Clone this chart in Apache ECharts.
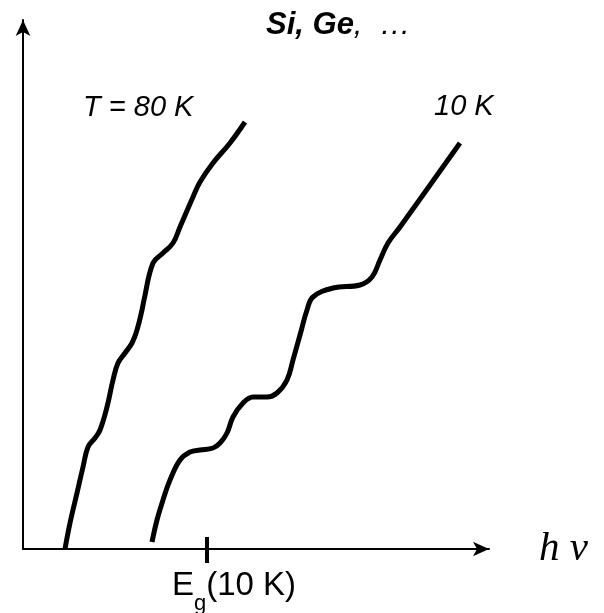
<!DOCTYPE html>
<html>
<head>
<meta charset="utf-8">
<script src="https://cdn.jsdelivr.net/npm/echarts@6/dist/echarts.min.js"></script>
<style>
    html, body { margin: 0; padding: 0; background: #fff; }
    #chart { width: 604px; height: 613px; }
</style>
</head>
<body>
<div id="chart"></div>
<script>
// photon energy (arbitrary units) and absorption for the two temperatures
var hv80 = [42, 47, 54, 60, 65, 72, 77, 84, 90, 95, 102, 109, 114, 119, 121, 130, 140, 150, 157, 170, 177, 190, 207, 222];
var abs80 = [0, 26, 56, 82, 102, 111, 119, 142, 169, 186, 196, 206, 219, 239, 249, 286, 296, 306, 322, 352, 367, 386, 406, 427];

var hv10 = [129, 134, 140, 147, 157, 167, 177, 190, 197, 204, 210, 220, 230, 244, 254, 264, 270, 277, 284, 290, 310, 337, 349, 357, 365, 377, 437];
var abs10 = [7, 29, 49, 69, 89, 97, 99, 101, 106, 116, 132, 146, 152, 152, 156, 169, 189, 214, 239, 252, 261, 264, 272, 289, 306, 322, 406];

var egValue = 184;   // E_g(10 K)
var xMax = 466;
var yMax = 529;

function pairs(xs, ys) {
    var out = [];
    for (var i = 0; i < xs.length; i++) {
        out.push([xs[i], ys[i]]);
    }
    return out;
}

var myChart = echarts.init(document.getElementById('chart'));

var lineStyle = { color: '#000', width: 5, cap: 'butt', join: 'round' };

var option = {
    backgroundColor: '#fff',
    animation: false,
    grid: { left: 23, right: 115, top: 20, bottom: 64, outerBoundsMode: 'none' },
    xAxis: [{
        type: 'value',
        min: 0,
        max: xMax,
        name: 'h ν',
        nameLocation: 'end',
        nameGap: 50,
        nameTextStyle: {
            fontFamily: 'Liberation Serif',
            fontStyle: 'italic',
            fontSize: 41,
            color: '#000',
            verticalAlign: 'middle'
        },
        axisLine: {
            show: true,
            symbol: ['none', 'arrow'],
            symbolSize: [11, 16],
            lineStyle: { color: '#000', width: 2 }
        },
        axisTick: {
            show: true,
            customValues: [egValue],
            length: 14,
            lineStyle: { color: '#000', width: 4 }
        },
        axisLabel: { show: false },
        splitLine: { show: false }
    }, {
        type: 'value',
        position: 'bottom',
        min: 0,
        max: xMax,
        axisLine: { show: false },
        axisTick: {
            show: true,
            inside: true,
            customValues: [egValue],
            length: 12,
            lineStyle: { color: '#000', width: 4 }
        },
        axisLabel: { show: false },
        splitLine: { show: false }
    }],
    yAxis: {
        type: 'value',
        min: 0,
        max: yMax,
        axisLine: {
            show: true,
            symbol: ['none', 'arrow'],
            symbolSize: [11, 16],
            lineStyle: { color: '#000', width: 2 }
        },
        axisTick: { show: false },
        axisLabel: { show: false },
        splitLine: { show: false }
    },
    graphic: [
        {
            type: 'text', left: 266, top: 10,
            style: {
                text: '{b|Si, Ge}{n|,  …}',
                rich: {
                    b: { fontFamily: 'Liberation Sans', fontStyle: 'italic', fontWeight: 'bold', fontSize: 31, fill: '#000' },
                    n: { fontFamily: 'Liberation Sans', fontStyle: 'italic', fontSize: 31, fill: '#000' }
                }
            }
        },
        {
            type: 'text', left: 83, top: 93,
            style: { text: 'T = 80 K', fontFamily: 'Liberation Sans', fontStyle: 'italic', fontSize: 29, fill: '#000' }
        },
        {
            type: 'text', left: 434, top: 92,
            style: { text: '10 K', fontFamily: 'Liberation Sans', fontStyle: 'italic', fontSize: 29, fill: '#000' }
        },
        {
            type: 'text', left: 172, top: 569,
            style: {
                text: '{m|E}{s|g}{m|(10 K)}',
                rich: {
                    m: { fontFamily: 'Liberation Sans', fontSize: 33, fill: '#000', verticalAlign: 'top' },
                    s: { fontFamily: 'Liberation Sans', fontSize: 22, fill: '#000', padding: [24, 0, 0, 0] }
                }
            }
        }
    ],
    series: [{
        name: '80 K',
        type: 'line',
        data: pairs(hv80, abs80),
        smooth: 0.4,
        showSymbol: false,
        clip: false,
        lineStyle: lineStyle
    }, {
        name: '10 K',
        type: 'line',
        data: pairs(hv10, abs10),
        smooth: 0.4,
        showSymbol: false,
        clip: false,
        lineStyle: lineStyle
    }]
};

myChart.setOption(option);
</script>
</body>
</html>
